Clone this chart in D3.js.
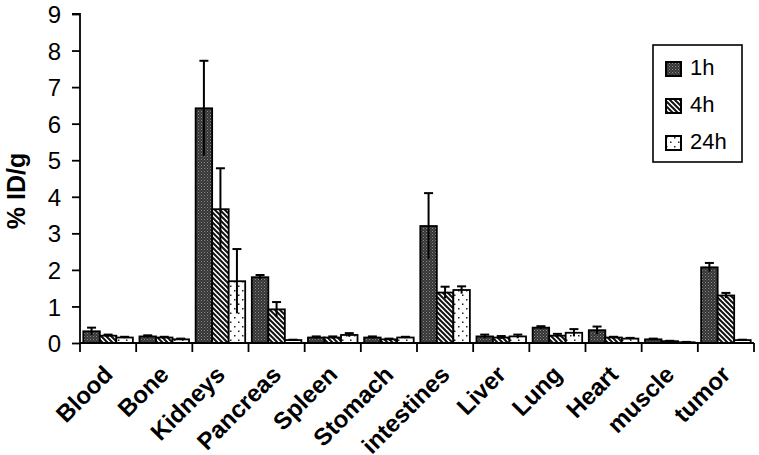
<!DOCTYPE html>
<html><head><meta charset="utf-8">
<script src="https://cdn.jsdelivr.net/npm/d3@7/dist/d3.min.js"></script>
<style>body{margin:0;background:#fff}svg{display:block}</style>
</head><body>
<svg id="c" width="759" height="455"></svg>
<script>
const categories = ["Blood","Bone","Kidneys","Pancreas","Spleen","Stomach","intestines","Liver","Lung","Heart","muscle","tumor"];
const seriesNames = ["1h","4h","24h"];
const v1h  = [0.32,0.18,6.42,1.80,0.15,0.15,3.20,0.18,0.42,0.35,0.10,2.07];
const e1h  = [0.10,0.03,1.30,0.06,0.03,0.03,0.90,0.05,0.04,0.10,0.02,0.12];
const v4h  = [0.20,0.15,3.66,0.92,0.15,0.10,1.38,0.15,0.20,0.15,0.05,1.30];
const e4h  = [0.03,0.02,1.12,0.20,0.03,0.02,0.16,0.04,0.05,0.02,0.01,0.07];
const v24h = [0.15,0.10,1.69,0.08,0.22,0.15,1.45,0.18,0.28,0.12,0.02,0.08];
const e24h = [0.02,0.02,0.88,0.01,0.05,0.02,0.10,0.05,0.10,0.02,0.01,0.01];
const yTicks = [0,1,2,3,4,5,6,7,8,9];

(function(){
const values = [v1h, v4h, v24h];
const errors = [e1h, e4h, e24h];
const FONT = "Liberation Sans, Arial, sans-serif";

const svg = d3.select("#c");
const defs = svg.append("defs");
const p1 = defs.append("pattern").attr("id","p1h").attr("patternUnits","userSpaceOnUse").attr("width",3).attr("height",3);
p1.append("rect").attr("width",3).attr("height",3).attr("fill","#363636");
p1.append("rect").attr("x",0).attr("y",0).attr("width",1).attr("height",1).attr("fill","#8a8a8a");
p1.append("rect").attr("x",1.5).attr("y",1.5).attr("width",1).attr("height",1).attr("fill","#6a6a6a");
const p2 = defs.append("pattern").attr("id","p4h").attr("patternUnits","userSpaceOnUse").attr("width",5).attr("height",5);
p2.append("rect").attr("width",5).attr("height",5).attr("fill","#fff");
p2.append("path").attr("d","M-1,-1 L6,6 M-1,4 L1,6 M4,-1 L6,1").attr("stroke","#111").attr("stroke-width",2);
const p3 = defs.append("pattern").attr("id","p24h").attr("patternUnits","userSpaceOnUse").attr("width",8).attr("height",9);
p3.append("rect").attr("width",8).attr("height",9).attr("fill","#fff");
p3.append("rect").attr("x",2).attr("y",2).attr("width",1.5).attr("height",1.5).attr("fill","#222");
p3.append("rect").attr("x",6).attr("y",6.5).attr("width",1.5).attr("height",1.5).attr("fill","#222");
const fills = ["url(#p1h)","url(#p4h)","url(#p24h)"];

const mL = 80, mR = 754, mT = 14, mB = 343;
const x = d3.scaleBand().domain(categories).range([mL, mR]).paddingInner(0).paddingOuter(0);
const xs = d3.scaleBand().domain(seriesNames).range([0, x.bandwidth()]).paddingOuter(0.2).paddingInner(0);
const y = d3.scaleLinear().domain([0, 9]).range([mB, mT]);

const g = svg.append("g");
seriesNames.forEach((s, si) => {
  const grp = g.append("g");
  grp.selectAll("rect").data(categories).join("rect")
    .attr("x", c => x(c) + xs(s))
    .attr("y", (c, i) => y(values[si][i]))
    .attr("width", xs.bandwidth())
    .attr("height", (c, i) => y(0) - y(values[si][i]))
    .attr("fill", fills[si]).attr("stroke", "#000").attr("stroke-width", 1.8);
  const eg = g.append("g");
  categories.forEach((c, i) => {
    const cx = x(c) + xs(s) + xs.bandwidth() / 2;
    const v = values[si][i], e = errors[si][i];
    eg.append("line").attr("x1", cx).attr("x2", cx)
      .attr("y1", y(Math.max(0, v - e))).attr("y2", y(v + e))
      .attr("stroke", "#000").attr("stroke-width", 2);
    eg.append("line").attr("x1", cx - 4.5).attr("x2", cx + 4.5)
      .attr("y1", y(v + e)).attr("y2", y(v + e))
      .attr("stroke", "#000").attr("stroke-width", 2);
  });
});

const yAxis = d3.axisLeft(y).tickValues(yTicks).tickSize(8).tickPadding(11).tickFormat(d3.format("d"));
const ya = svg.append("g").attr("transform", `translate(${mL},0)`).call(yAxis);
ya.select(".domain").attr("stroke","#000").attr("stroke-width",1.8).attr("d", `M-8,${mT}H0V${mB}`);
ya.selectAll(".tick line").attr("stroke","#000").attr("stroke-width",1.8);
ya.selectAll(".tick text").attr("font-family",FONT).attr("font-size",24).attr("fill","#000").attr("dy","0.36em");

const xb = d3.scaleLinear().domain([0, categories.length]).range([mL, mR]);
const xa = svg.append("g");
xa.append("line").attr("x1", mL).attr("x2", mR).attr("y1", mB).attr("y2", mB).attr("stroke","#000").attr("stroke-width",1.8);
xa.selectAll("line.t").data(d3.range(categories.length + 1)).join("line").attr("class","t")
  .attr("x1", d => xb(d)).attr("x2", d => xb(d)).attr("y1", mB).attr("y2", mB + 9)
  .attr("stroke","#000").attr("stroke-width",1.8);
xa.selectAll("text.cat").data(categories).join("text").attr("class","cat")
  .attr("x", c => x(c) + x.bandwidth()/2 + 6)
  .attr("y", mB + 33)
  .attr("transform", c => `rotate(-45 ${x(c) + x.bandwidth()/2 + 6} ${mB + 33})`)
  .attr("text-anchor","end")
  .attr("font-family",FONT).attr("font-weight","bold").attr("font-size",24).attr("fill","#000")
  .text(c => c);

svg.append("text").attr("transform", `translate(25,191) rotate(-90)`)
  .attr("text-anchor","middle").attr("font-family",FONT)
  .attr("font-weight","bold").attr("font-size",25).text("% ID/g");

const lg = svg.append("g");
lg.append("rect").attr("x",653).attr("y",45).attr("width",89).attr("height",117).attr("fill","#fff").attr("stroke","#000").attr("stroke-width",1.6);
seriesNames.forEach((s, i) => {
  const yy = 62 + i * 37;
  lg.append("rect").attr("x",666).attr("y",yy).attr("width",15).attr("height",14).attr("fill",fills[i]).attr("stroke","#000").attr("stroke-width",2);
  lg.append("text").attr("x",690).attr("y",yy + 13).attr("font-family",FONT).attr("font-size",22).text(s);
});
})();
</script>
</body></html>
